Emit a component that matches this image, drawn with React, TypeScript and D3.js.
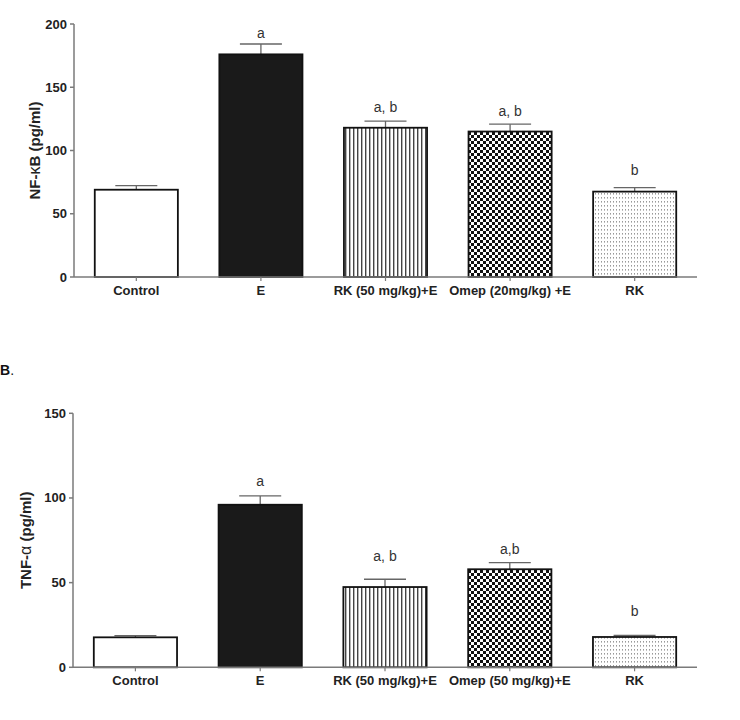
import React from "react";
import * as d3 from "d3";

// ---------- Data ----------
const categoriesA = ["Control", "E", "RK (50 mg/kg)+E", "Omep (20mg/kg) +E", "RK"];
const nfkbMean = [69, 176, 118, 115, 67.5];
const nfkbSem = [3.2, 8.2, 5.3, 5.8, 3.2];
const nfkbLetters = ["", "a", "a, b", "a, b", "b"];
const nfkbLetterAt = [0, 193, 134, 131.5, 84.6];
const nfkbTicks = [0, 50, 100, 150, 200];

const categoriesB = ["Control", "E", "RK (50 mg/kg)+E", "Omep (50 mg/kg)+E", "RK"];
const tnfMean = [17.7, 96.0, 47.4, 57.9, 17.9];
const tnfSem = [1.0, 5.2, 4.6, 3.9, 1.0];
const tnfLetters = ["", "a", "a, b", "a,b", "b"];
const tnfLetterAt = [0, 110, 65.7, 69.9, 33.3];
const tnfTicks = [0, 50, 100, 150];

const fills = ["#ffffff", "#1a1a1a", "url(#stripes)", "url(#checker)", "url(#dots)"];
const FONT = "Arial, 'Liberation Sans', Helvetica, sans-serif";

type PanelProps = {
  cats: string[];
  means: number[];
  sems: number[];
  letters: string[];
  letterAt: number[];
  ticks: number[];
  yMax: number;
  x0: number;
  x1: number;
  yTop: number;
  yBottom: number;
  titleMain: string;
  greek: string;
  titleRest: string;
  titleX: number;
};

function Panel(p: PanelProps) {
  const x = d3
    .scaleBand<string>()
    .domain(p.cats)
    .range([p.x0, p.x1])
    .paddingInner(0.333)
    .paddingOuter(0.1667);
  const y = d3.scaleLinear().domain([0, p.yMax]).range([p.yBottom, p.yTop]);
  const axisColor = "#7a7a7a";
  const titleY = (p.yTop + p.yBottom) / 2;
  return (
    <g>
      {p.cats.map((c, i) => {
        const bx = x(c)!;
        const bw = x.bandwidth();
        const top = y(p.means[i]);
        const cx = bx + bw / 2;
        const errTop = y(p.means[i] + p.sems[i]);
        return (
          <g key={c}>
            <line x1={cx} x2={cx} y1={top} y2={errTop} stroke="#666" strokeWidth={1.3} />
            <line x1={cx - 21} x2={cx + 21} y1={errTop} y2={errTop} stroke="#666" strokeWidth={1.3} />
            <rect
              x={bx}
              y={top}
              width={bw}
              height={p.yBottom - top}
              fill={fills[i]}
              stroke="#111"
              strokeWidth={1.8}
            />
            {p.letters[i] && (
              <text
                x={cx}
                y={y(p.letterAt[i]) + 5}
                textAnchor="middle"
                fontFamily={FONT}
                fontSize={14}
                fill="#333"
              >
                {p.letters[i]}
              </text>
            )}
            <line x1={cx} x2={cx} y1={p.yBottom} y2={p.yBottom + 4} stroke={axisColor} strokeWidth={1.2} />
            <text
              x={cx}
              y={p.yBottom + 18}
              textAnchor="middle"
              fontFamily={FONT}
              fontWeight="bold"
              fontSize={13}
              fill="#222"
            >
              {c}
            </text>
          </g>
        );
      })}
      <line x1={p.x0} x2={p.x1} y1={p.yBottom} y2={p.yBottom} stroke={axisColor} strokeWidth={1.5} />
      <line x1={p.x0} x2={p.x0} y1={p.yBottom} y2={p.yTop} stroke={axisColor} strokeWidth={1.5} />
      {p.ticks.map((t) => (
        <g key={t}>
          <line x1={p.x0 - 4} x2={p.x0} y1={y(t)} y2={y(t)} stroke={axisColor} strokeWidth={1.5} />
          <text
            x={p.x0 - 7}
            y={y(t) + 4.5}
            textAnchor="end"
            fontFamily={FONT}
            fontWeight="bold"
            fontSize={13}
            fill="#222"
          >
            {t}
          </text>
        </g>
      ))}
      <text
        transform={`translate(${p.titleX},${titleY}) rotate(-90)`}
        textAnchor="middle"
        fontFamily={FONT}
        fontWeight="bold"
        fontSize={15}
        fill="#222"
      >
        {p.titleMain}
        <tspan fontWeight="normal" fontSize={16}>{p.greek}</tspan>
        {p.titleRest}
      </text>
    </g>
  );
}

export default function App() {
  return (
    <svg
      width={740}
      height={720}
      style={{ position: "absolute", left: 0, top: 0, background: "#fff" }}
    >
      <defs>
        <pattern id="stripes" width={4} height={4} patternUnits="userSpaceOnUse">
          <rect width={4} height={4} fill="#fff" />
          <rect x={1} width={1.4} height={4} fill="#444" />
        </pattern>
        <pattern id="checker" width={6} height={6} patternUnits="userSpaceOnUse">
          <rect width={6} height={6} fill="#fff" />
          <rect x={0} y={0} width={3} height={3} fill="#111" />
          <rect x={3} y={3} width={3} height={3} fill="#111" />
        </pattern>
        <pattern id="dots" width={3} height={4} patternUnits="userSpaceOnUse">
          <rect width={3} height={4} fill="#fff" />
          <rect x={1} y={1} width={1} height={1.6} fill="#999" />
        </pattern>
      </defs>
      <Panel
        cats={categoriesA}
        means={nfkbMean}
        sems={nfkbSem}
        letters={nfkbLetters}
        letterAt={nfkbLetterAt}
        ticks={nfkbTicks}
        yMax={200}
        x0={74}
        x1={697}
        yTop={24}
        yBottom={277}
        titleMain="NF-"
        greek="κ"
        titleRest="B (pg/ml)"
        titleX={40}
      />
      <text x={0} y={375} fontFamily={FONT} fontWeight="bold" fontSize={14} fill="#111">
        B<tspan fontWeight="normal">.</tspan>
      </text>
      <Panel
        cats={categoriesB}
        means={tnfMean}
        sems={tnfSem}
        letters={tnfLetters}
        letterAt={tnfLetterAt}
        ticks={tnfTicks}
        yMax={150}
        x0={73}
        x1={697}
        yTop={413.3}
        yBottom={667.3}
        titleMain="TNF-"
        greek="α"
        titleRest=" (pg/ml)"
        titleX={31}
      />
    </svg>
  );
}
